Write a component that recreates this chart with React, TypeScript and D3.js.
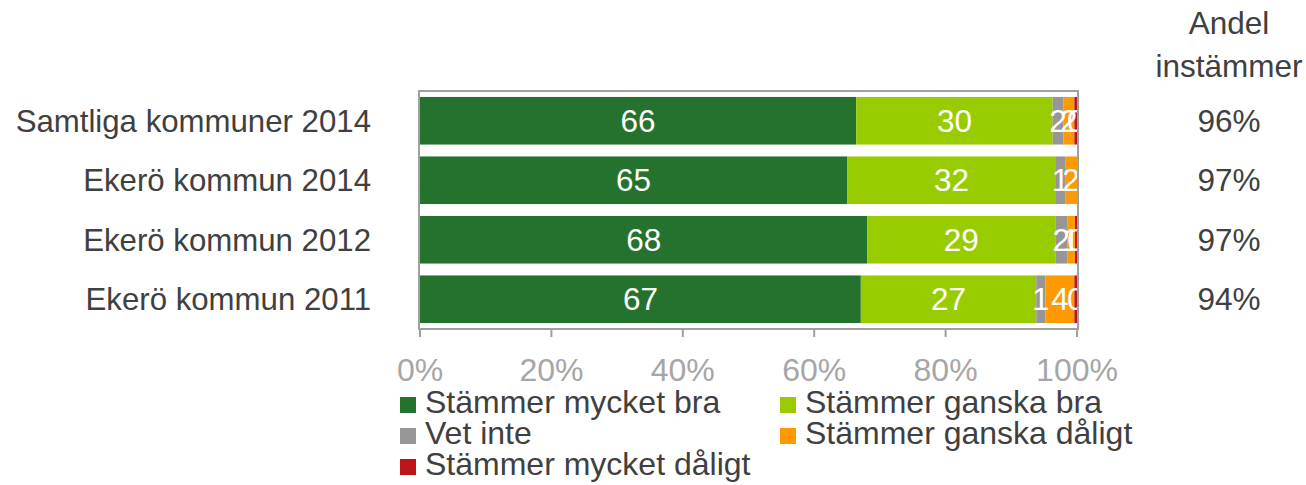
import React from 'react';
import * as d3 from 'd3';

const categories = ['Samtliga kommuner 2014', 'Ekerö kommun 2014', 'Ekerö kommun 2012', 'Ekerö kommun 2011'];
const seriesNames = ['Stämmer mycket bra', 'Stämmer ganska bra', 'Vet inte', 'Stämmer ganska dåligt', 'Stämmer mycket dåligt'];
const seriesColors = ['#25722e', '#99cc00', '#969696', '#ff9900', '#c0141b'];

// one array per series, in category order
const mycketBra = [66.4, 65.0, 68.1, 67.1];
const ganskaBra = [29.9, 31.8, 28.6, 26.7];
const vetInte = [1.6, 1.4, 1.8, 1.4];
const ganskaDaligt = [1.7, 1.8, 1.2, 4.4];
const mycketDaligt = [0.4, 0.0, 0.3, 0.4];

const andelInstammer = ['96%', '97%', '97%', '94%'];
const xTicks = [0, 20, 40, 60, 80, 100];

const FONT = '"Liberation Sans", Arial, sans-serif';
const TEXT = '#404040';
const AXIS = '#a0a0a0';

const App = () => {
  const width = 1306,
    height = 485;
  const plot = { left: 419, right: 1078, top: 91, bottom: 329 };

  const series = [mycketBra, ganskaBra, vetInte, ganskaDaligt, mycketDaligt];
  const rows = categories.map((c, i) => {
    const r: any = { category: c };
    seriesNames.forEach((s, j) => (r[s] = series[j][i]));
    return r;
  });
  const stacked = d3.stack().keys(seriesNames)(rows);

  const x = d3.scaleLinear().domain([0, 100]).range([plot.left + 1, plot.right - 1]);
  const y = d3
    .scaleBand()
    .domain(categories)
    .range([plot.top, plot.bottom])
    .paddingInner(0.2)
    .paddingOuter(0.1);

  return (
    <svg width={width} height={height} style={{ display: 'block', position: 'absolute', left: 0, top: 0 }}>
      <defs>
        <clipPath id="plotClip">
          <rect x={plot.left} y={plot.top} width={plot.right - plot.left} height={plot.bottom - plot.top} />
        </clipPath>
      </defs>

      {/* bars */}
      {stacked.map((layer, j) => (
        <g key={layer.key} fill={seriesColors[j]}>
          {layer.map((d, i) => (
            <rect
              key={i}
              x={x(d[0])}
              y={y(categories[i])}
              width={Math.max(0, x(d[1]) - x(d[0]))}
              height={y.bandwidth()}
            />
          ))}
        </g>
      ))}

      {/* value labels */}
      <g clipPath="url(#plotClip)" fontFamily={FONT} fontSize={31.5} fill="#fff" textAnchor="middle">
        {stacked.map((layer, j) =>
          layer.map((d, i) =>
            d[1] - d[0] > 0 ? (
              <text key={j + '-' + i} x={(x(d[0]) + x(d[1])) / 2} y={y(categories[i])! + y.bandwidth() / 2 + 11}>
                {Math.round(d[1] - d[0])}
              </text>
            ) : null
          )
        )}
      </g>

      {/* plot frame and axis */}
      <rect
        x={plot.left}
        y={plot.top}
        width={plot.right - plot.left}
        height={plot.bottom - plot.top}
        fill="none"
        stroke={AXIS}
        strokeWidth={2}
      />
      {xTicks.map((t) => (
        <g key={t}>
          <line x1={x(t)} x2={x(t)} y1={plot.bottom} y2={plot.bottom + 8} stroke={AXIS} strokeWidth={2} />
          <text x={x(t)} y={381} textAnchor="middle" fontFamily={FONT} fontSize={32} fill="#a6a6a6">
            {t + '%'}
          </text>
        </g>
      ))}

      {/* category labels */}
      {categories.map((c) => (
        <text
          key={c}
          x={371}
          y={y(c)! + y.bandwidth() / 2 + 11}
          textAnchor="end"
          fontFamily={FONT}
          fontSize={31.2}
          fill={TEXT}
        >
          {c}
        </text>
      ))}

      {/* Andel instämmer column */}
      <g fontFamily={FONT} fontSize={31.5} fill={TEXT} textAnchor="middle">
        <text x={1229} y={34}>Andel</text>
        <text x={1229} y={77}>instämmer</text>
        {categories.map((c, i) => (
          <text key={c} x={1229} y={y(c)! + y.bandwidth() / 2 + 11}>
            {andelInstammer[i]}
          </text>
        ))}
      </g>

      {/* legend */}
      <g fontFamily={FONT} fontSize={32} fill={TEXT}>
        {seriesNames.map((s, j) => {
          const col = j % 2,
            row = Math.floor(j / 2);
          const lx = col === 0 ? 400 : 780;
          const ly = 397 + row * 31;
          return (
            <g key={s}>
              <rect x={lx} y={ly} width={16} height={16} fill={seriesColors[j]} />
              <text x={lx + 25} y={ly + 16}>
                {s}
              </text>
            </g>
          );
        })}
      </g>
    </svg>
  );
};

export default App;
